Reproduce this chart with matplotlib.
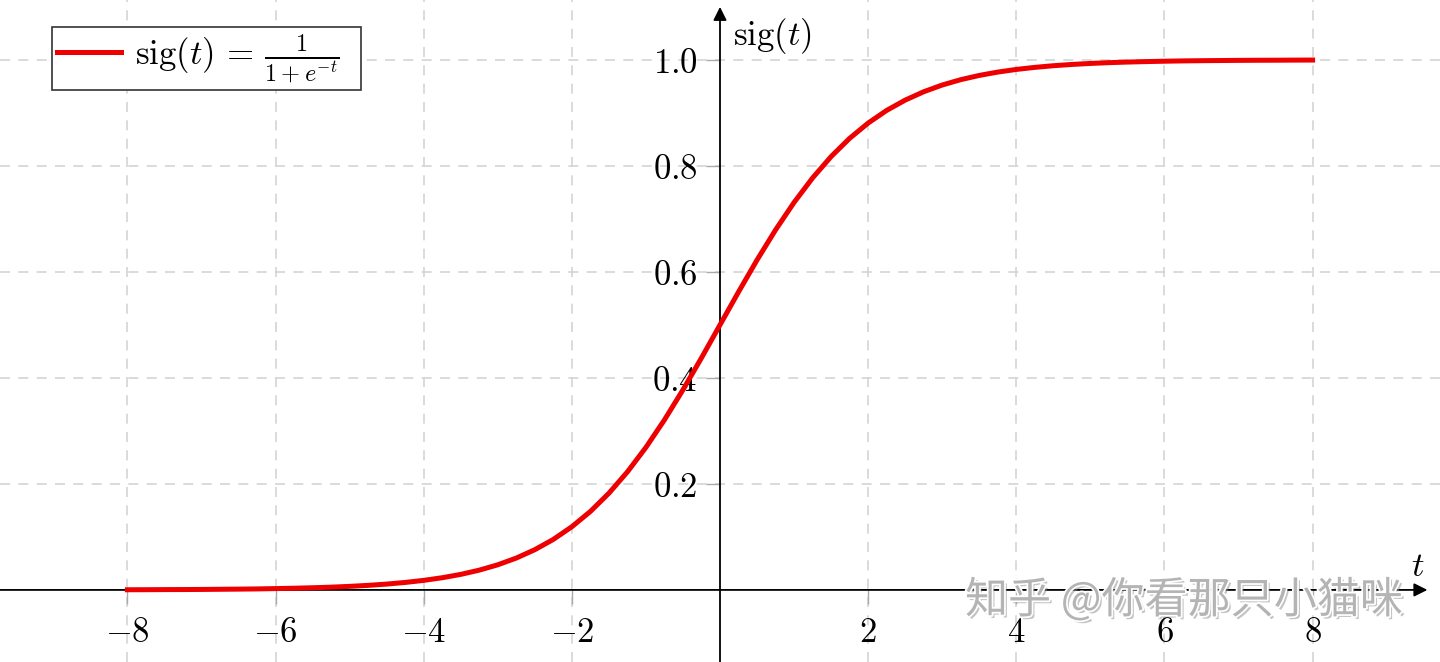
import matplotlib
matplotlib.use("Agg")
import matplotlib.pyplot as plt
import matplotlib.patheffects as pe

plt.rcParams["mathtext.fontset"] = "cm"

t_vals = [-8 + 0.25 * i for i in range(65)]
sig_vals = [
    0.0003, 0.0004, 0.0006, 0.0007, 0.0009, 0.0012, 0.0015, 0.0019,
    0.0025, 0.0032, 0.0041, 0.0052, 0.0067, 0.0086, 0.0110, 0.0141,
    0.0180, 0.0230, 0.0293, 0.0373, 0.0474, 0.0601, 0.0759, 0.0953,
    0.1192, 0.1480, 0.1824, 0.2227, 0.2689, 0.3208, 0.3775, 0.4378,
    0.5000,
    0.5622, 0.6225, 0.6792, 0.7311, 0.7773, 0.8176, 0.8520, 0.8808,
    0.9047, 0.9241, 0.9399, 0.9526, 0.9627, 0.9707, 0.9770, 0.9820,
    0.9859, 0.9890, 0.9914, 0.9933, 0.9948, 0.9959, 0.9968, 0.9975,
    0.9981, 0.9985, 0.9988, 0.9991, 0.9993, 0.9994, 0.9996, 0.9997,
]

x_ticks = [-8, -6, -4, -2, 2, 4, 6, 8]
y_ticks = [0.2, 0.4, 0.6, 0.8, 1.0]
x_labels = [f"${v}$" for v in x_ticks]
y_labels = [f"${v:.1f}$" for v in y_ticks]

FS = 25

fig = plt.figure(figsize=(14.4, 6.62), dpi=100)
ax = fig.add_axes([0, 0, 1, 1])
ax.set_xlim(-9.72, 9.72)
ax.set_ylim(-0.136, 1.113)

for side in ["top", "right"]:
    ax.spines[side].set_visible(False)
for side in ["bottom", "left"]:
    ax.spines[side].set_position("zero")
    ax.spines[side].set_color("none")

ax.set_xticks(x_ticks)
ax.set_xticklabels(x_labels, fontsize=FS)
ax.set_yticks(y_ticks)
ax.set_yticklabels(y_labels, fontsize=FS)
ax.tick_params(axis="x", direction="out", length=10, width=1, color="#aaaaaa", pad=8)
ax.tick_params(axis="y", direction="out", length=10, width=1, color="#aaaaaa", pad=6)

ax.grid(True, linestyle=(0, (6, 5)), color="#d4d4d4", linewidth=1.2)
ax.set_axisbelow(True)

# axis arrows
arrow = dict(arrowstyle="-|>", color="black", lw=1.3, mutation_scale=20,
             shrinkA=0, shrinkB=0)
ax.annotate("", xy=(9.55, 0), xytext=(-9.72, 0), arrowprops=arrow)
ax.annotate("", xy=(0, 1.10), xytext=(0, -0.136), arrowprops=arrow)

ax.plot(t_vals, sig_vals, color="#ee0000", linewidth=3.6, zorder=3,
        label=r"$\mathrm{sig}(t)\,=\,\frac{1}{1+e^{-t}}$  ")

ax.text(0.17, 1.045, r"$\mathrm{sig}(t)$", fontsize=FS, ha="left", va="center")
ax.text(9.42, 0.045, r"$t$", fontsize=FS, ha="center", va="center")

leg = ax.legend(loc="upper left", bbox_to_anchor=(52 / 1440, 1 - 27 / 662),
                bbox_transform=fig.transFigure, borderaxespad=0,
                fontsize=FS, frameon=True, fancybox=False, framealpha=1,
                edgecolor="#333333", handlelength=1.85, handletextpad=0.4,
                borderpad=0.15)
leg.get_frame().set_linewidth(1.2)

fig.text(965 / 1440, 1 - 601 / 662, "知乎 @你看那只小猫咪",
         fontsize=31, color="#b4b4b4", ha="left", va="center",
         family=["Noto Sans CJK SC", "DejaVu Sans"],
         path_effects=[pe.SimplePatchShadow(offset=(2, -2), shadow_rgbFace="#888888", alpha=0.5),
                       pe.withStroke(linewidth=2.5, foreground="white")])

fig.savefig("out.png", dpi=100)
